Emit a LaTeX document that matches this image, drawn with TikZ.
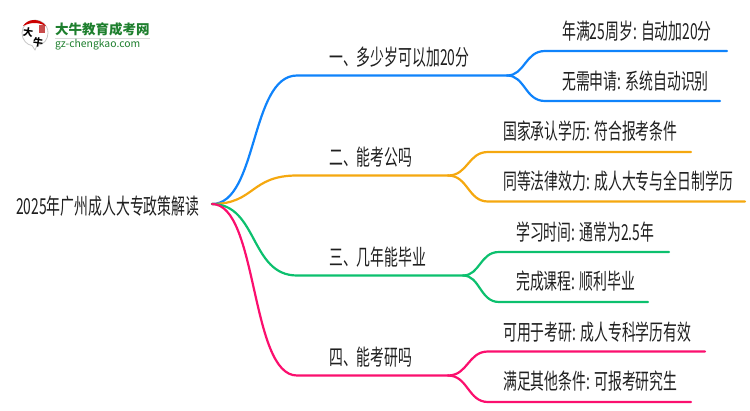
\documentclass[tikz,border=0pt]{standalone}
\usepackage{fontspec}
\setmainfont[FakeStretch=0.63]{Noto Sans CJK SC}
\newfontfamily\logofont{Noto Sans CJK SC}
\definecolor{cblue}{HTML}{0F83FB}
\definecolor{corange}{HTML}{F5A80F}
\definecolor{cgreen}{HTML}{0CC06E}
\definecolor{cpink}{HTML}{FB0F6E}
\definecolor{logogreen}{HTML}{1E7F2E}
\tikzset{
  edge/.style={line width=2.2pt,line cap=round},
  lab/.style={inner sep=0pt,anchor=base west,text=black!88,font=\fontsize{22}{24}\selectfont}
}
\begin{document}
\begin{tikzpicture}[x=1pt,y=-1pt]
\useasboundingbox (0,0) rectangle (750,410);
% logo
\draw[gray!45,line width=0.8pt,fill=white] (35,50) -- (37,45.5) .. controls (44,45) and (48,39) .. (48,33) .. controls (48,25) and (42,20) .. (35,20) .. controls (28,20) and (22,26) .. (22,33) .. controls (22,40) and (27,45) .. (32,45.5) -- cycle;
\fill[red!80!black] (23,26) .. controls (28,18) and (40,18) .. (46,26) .. controls (38,22) and (31,22) .. (23,26) -- cycle;
\fill[red!70!black,opacity=.7] (39,25) rectangle (45,33);
\node[inner sep=0pt,rotate=-8,font=\logofont\bfseries\fontsize{10}{10}\selectfont] (logoa) at (28,32) {大};
\node[inner sep=0pt,rotate=-8,font=\logofont\bfseries\fontsize{10}{10}\selectfont] (logob) at (38,42) {牛};
\node[inner sep=0pt,font=\logofont\bfseries\fontsize{13.5}{14}\selectfont,text=logogreen,anchor=west] (logot) at (55,29.5) {大牛教育成考网};
\draw[gray!30,line width=.5pt] (55,38.5) -- (150,38.5);
\node[inner sep=0pt,font=\logofont\fontsize{10.4}{11}\selectfont,text=logogreen,anchor=west] (logou) at (55,45) {gz-chengkao.com};
% labels
\node[lab] (root) at (16,214) {2025年广州成人大专政策解读};
\coordinate (o) at (212,204);
\node[lab] (b1) at (329,65) {一、多少岁可以加20分};
\node[lab] (b2) at (329,165) {二、能考公吗};
\node[lab] (b3) at (329,265) {三、几年能毕业};
\node[lab] (b4) at (329,365) {四、能考研吗};
\node[lab] (l11) at (562,39.5) {年满25周岁: 自动加20分};
\node[lab] (l12) at (562,89.5) {无需申请: 系统自动识别};
\node[lab] (l21) at (503,139.5) {国家承认学历: 符合报考条件};
\node[lab] (l22) at (503,189) {同等法律效力: 成人大专与全日制学历};
\node[lab] (l31) at (516,240) {学习时间: 通常为2.5年};
\node[lab] (l32) at (516,289) {完成课程: 顺利毕业};
\node[lab] (l41) at (503,340) {可用于考研: 成人专科学历有效};
\node[lab] (l42) at (503,389.5) {满足其他条件: 可报考研究生};
% fork points
\coordinate (e1) at (507,75.5); \coordinate (e2) at (448,175.5);
\coordinate (e3) at (463,275.5); \coordinate (e4) at (448,375.5);
% edges
\draw[edge,cblue] (o) .. controls (258,204) and (250,75.5) .. (297,75.5) -- (e1);
\draw[edge,cblue] (e1) .. controls (525,75.5) and (525,51) .. (545,51) -- (727,51);
\draw[edge,cblue] (e1) .. controls (525,75.5) and (525,101) .. (545,101) -- (720,101);
\draw[edge,corange] (o) .. controls (255,204) and (250,175.5) .. (297,175.5) -- (e2);
\draw[edge,corange] (e2) .. controls (468,175.5) and (468,152) .. (488,152) -- (691,152);
\draw[edge,corange] (e2) .. controls (468,175.5) and (468,201.5) .. (488,201.5) -- (745,201.5);
\draw[edge,cgreen] (o) .. controls (258,204) and (250,275.5) .. (297,275.5) -- (e3);
\draw[edge,cgreen] (e3) .. controls (480,275.5) and (480,252) .. (499,252) -- (669,252);
\draw[edge,cgreen] (e3) .. controls (480,275.5) and (480,302) .. (499,302) -- (648,302);
\draw[edge,cpink] (o) .. controls (258,204) and (250,375.5) .. (297,375.5) -- (e4);
\draw[edge,cpink] (e4) .. controls (468,375.5) and (468,351.5) .. (488,351.5) -- (705,351.5);
\draw[edge,cpink] (e4) .. controls (468,375.5) and (468,402) .. (488,402) -- (691,402);
\end{tikzpicture}
\end{document}
